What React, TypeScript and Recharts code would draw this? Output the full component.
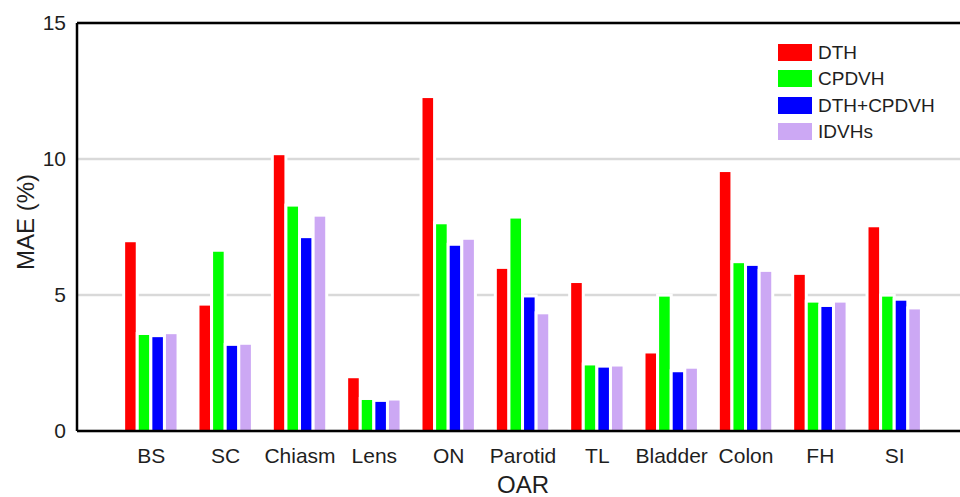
import { BarChart, Bar, XAxis, YAxis, CartesianGrid, ReferenceLine, Legend } from "recharts";

const categories = ["BS", "SC", "Chiasm", "Lens", "ON", "Parotid", "TL", "Bladder", "Colon", "FH", "SI"];
const dth = [6.94, 4.61, 10.14, 1.94, 12.24, 5.96, 5.44, 2.85, 9.52, 5.74, 7.49];
const cpdvh = [3.53, 6.59, 8.25, 1.14, 7.6, 7.81, 2.41, 4.94, 6.17, 4.72, 4.94];
const dthCpdvh = [3.45, 3.13, 7.09, 1.07, 6.81, 4.91, 2.33, 2.16, 6.07, 4.56, 4.79];
const idvhs = [3.56, 3.17, 7.88, 1.12, 7.03, 4.29, 2.37, 2.29, 5.85, 4.72, 4.47];
const yTicks = [0, 5, 10, 15];

const seriesKeys = ["dth", "cpdvh", "combo", "idvhs"];
const seriesNames = ["DTH", "CPDVH", "DTH+CPDVH", "IDVHs"];
const seriesColors = ["#ff0000", "#00ff00", "#0000ff", "#cca8f4"];

const data = categories.map((name, i) => ({
  name,
  dth: dth[i],
  cpdvh: cpdvh[i],
  combo: dthCpdvh[i],
  idvhs: idvhs[i],
}));

const FONT = "'Liberation Sans', Arial, Helvetica, sans-serif";
const INK = "#1e1e1e";

// white margin around each bar so gridlines break around it
const PaddedBar = (props: any) => {
  const { x, y, width, height, fill } = props;
  if (!height || height <= 0) return null;
  return (
    <g>
      <rect x={x - 3} y={y - 3} width={width + 6} height={height + 3} fill="#fff" />
      <rect x={x} y={y} width={width} height={height} fill={fill} />
    </g>
  );
};

const renderLegend = () => (
  <div style={{ fontFamily: FONT, fontSize: 19, color: INK, lineHeight: 1 }}>
    {seriesNames.map((n, i) => (
      <div key={n} style={{ display: "flex", alignItems: "center", height: 26.3 }}>
        <span style={{ display: "inline-block", width: 34, height: 17, background: seriesColors[i], marginRight: 6 }} />
        <span>{n}</span>
      </div>
    ))}
  </div>
);

export default function App() {
  return (
    <div style={{ position: "absolute", left: 0, top: 0, width: 960, height: 497, overflow: "hidden", background: "#fff" }}>
      <BarChart
        width={980}
        height={497}
        data={data}
        margin={{ top: 23, right: 11, left: 0, bottom: 0 }}
        barSize={10.6}
        barGap={3}
      >
        <CartesianGrid horizontal vertical={false} stroke="#d9d9d9" strokeWidth={2.5} />
        <XAxis
          dataKey="name"
          height={66}
          interval={0}
          padding={{ left: 37.15, right: 37.15 }}
          tickLine={false}
          tickMargin={11}
          axisLine={{ stroke: "#000", strokeWidth: 2.5 }}
          tick={{ fontSize: 21, fill: INK, fontFamily: FONT }}
          label={({ viewBox }: any) => (
            <text
              x={viewBox.x + viewBox.width / 2}
              y={viewBox.y + 62}
              textAnchor="middle"
              fontSize={24}
              fontFamily={FONT}
              fill={INK}
            >
              OAR
            </text>
          )}
        />
        <YAxis
          width={77}
          domain={[0, 15]}
          ticks={yTicks}
          tickLine={false}
          tickMargin={5}
          axisLine={{ stroke: "#000", strokeWidth: 2.5 }}
          tick={{ fontSize: 21, fill: INK, fontFamily: FONT }}
          label={({ viewBox }: any) => {
            const cx = viewBox.x + 25;
            const cy = viewBox.y + viewBox.height / 2 - 5;
            return (
              <text
                x={cx}
                y={cy}
                transform={`rotate(-90 ${cx} ${cy})`}
                textAnchor="middle"
                dominantBaseline="central"
                fontSize={24}
                fontFamily={FONT}
                fill={INK}
              >
                MAE (%)
              </text>
            );
          }}
        />
        <ReferenceLine y={15} stroke="#000" strokeWidth={2.5} />
        <Legend
          layout="vertical"
          align="center"
          verticalAlign="middle"
          wrapperStyle={{ left: 778, top: 39.5, width: "auto", height: "auto" }}
          content={renderLegend}
        />
        {seriesKeys.map((k, i) => (
          <Bar
            key={k}
            dataKey={k}
            name={seriesNames[i]}
            fill={seriesColors[i]}
            shape={<PaddedBar />}
            isAnimationActive={false}
          />
        ))}
      </BarChart>
    </div>
  );
}
